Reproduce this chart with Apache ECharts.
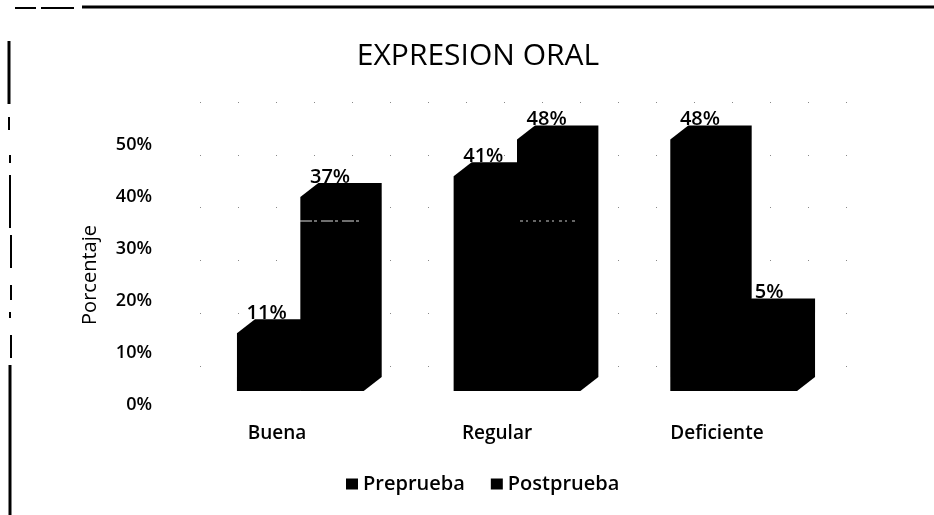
<!DOCTYPE html>
<html><head><meta charset="utf-8">
<style>html,body{margin:0;padding:0;background:#fff}#c{width:934px;height:515px}</style>
<script src="https://cdn.jsdelivr.net/npm/echarts@6/dist/echarts.min.js"></script>
</head><body><div id="c"></div>
<script>
var categories = ['Buena', 'Regular', 'Deficiente'];
var preprueba = [11, 41, 48];
var postprueba = [37, 48, 15];
var yTicks = [0, 10, 20, 30, 40, 50];

var FONT = '"Open Sans", sans-serif';
var INK = '#000';
var DX = 18, DY = 14;

function barRenderer(side) {
  return function (params, api) {
    var idx = api.value(0), val = api.value(1);
    var top = api.coord([idx, val]);
    var base = api.coord([idx, 0]);
    var cat = api.size([1, 0])[0];
    var w = cat * 0.2925;
    var l = side === 0 ? top[0] - w : top[0];
    var r = l + w;
    var t = top[1], b = base[1];
    return {
      type: 'group',
      children: [{
        type: 'polygon',
        shape: { points: [[l, b], [l, t], [l + DX, t - DY], [r + DX, t - DY], [r + DX, b - DY], [r, b]] },
        style: { fill: INK }
      }, {
        type: 'text',
        z2: 10,
        style: {
          text: val + '%', x: (l + r) / 2 - 2, y: t - DY + 4,
          align: 'center', verticalAlign: 'bottom',
          fill: INK, font: '600 20px ' + FONT
        }
      }]
    };
  };
}

function segment(x1, y1, x2, y2, width, color, dash) {
  var style = { stroke: color || '#000', lineWidth: width };
  if (dash) { style.lineDash = dash; }
  return { type: 'line', z: 20, shape: { x1: x1, y1: y1, x2: x2, y2: y2 }, style: style };
}

var chart = echarts.init(document.getElementById('c'), null, { renderer: 'canvas' });
chart.setOption({
  animation: false,
  backgroundColor: '#fff',
  title: {
    text: 'EXPRESION ORAL', left: 473, top: 36, textAlign: 'center',
    textStyle: { fontFamily: FONT, fontSize: 30, fontWeight: 400, color: INK }
  },
  legend: {
    top: 469, left: 341, itemWidth: 12, itemHeight: 11, itemGap: 26,
    icon: 'rect',
    textStyle: { fontFamily: FONT, fontSize: 20, fontWeight: 600, color: INK },
    data: ['Preprueba', 'Postprueba']
  },
  grid: [
    { left: 192, right: 92, top: 129, bottom: 124 },   // front plane of the bars
    { left: 200, right: 79, top: 102, bottom: 149 },   // back wall with gridlines
    { left: 167, right: 107, top: 145, bottom: 110 }   // axis label plane
  ],
  xAxis: [
    { gridIndex: 0, type: 'category', data: categories, axisLine: { show: false }, axisTick: { show: false }, axisLabel: { show: false } },
    { gridIndex: 1, type: 'category', data: categories, axisLine: { show: false }, axisTick: { show: false }, axisLabel: { show: false } },
    { gridIndex: 2, type: 'category', data: categories, axisLine: { show: false }, axisTick: { show: false },
      axisLabel: { margin: 19, fontFamily: FONT, fontSize: 19, fontWeight: 600, color: INK } }
  ],
  yAxis: [
    { gridIndex: 0, type: 'value', min: 0, max: 50, interval: 10, splitLine: { show: false }, axisLabel: { show: false } },
    { gridIndex: 1, type: 'value', min: 0, max: 50, interval: 10, axisLabel: { show: false },
      splitLine: { show: true, lineStyle: { color: '#888', width: 1, type: [1, 37] } } },
    { gridIndex: 2, type: 'value', min: 0, max: 50, interval: 10, splitLine: { show: false },
      name: 'Porcentaje', nameLocation: 'middle', nameGap: 67, nameRotate: 90,
      nameTextStyle: { fontFamily: FONT, fontSize: 20, fontWeight: 400, color: INK },
      axisLabel: { margin: 15, fontFamily: FONT, fontSize: 18, fontWeight: 600, color: INK,
        formatter: function (v) { return yTicks.indexOf(v) >= 0 ? v + '%' : ''; } } }
  ],
  series: [
    { name: 'Preprueba', type: 'custom', xAxisIndex: 0, yAxisIndex: 0, itemStyle: { color: INK }, z: 5,
      renderItem: barRenderer(0), data: preprueba.map(function (v, i) { return [i, v]; }) },
    { name: 'Postprueba', type: 'custom', xAxisIndex: 0, yAxisIndex: 0, itemStyle: { color: INK }, z: 4,
      renderItem: barRenderer(1), data: postprueba.map(function (v, i) { return [i, v]; }) }
  ],
  graphic: [
    segment(15, 8, 36, 8, 2),
    segment(41, 8, 74, 8, 2),
    segment(82, 7, 934, 7, 3),
    segment(9, 41, 9, 104, 3),
    segment(9, 117, 9, 130, 2),
    segment(10, 155, 10, 163, 2),
    segment(10, 175, 10, 228, 2),
    segment(11, 235, 11, 268, 2),
    segment(11, 285, 11, 300, 2),
    segment(10, 312, 10, 318, 2),
    segment(11, 335, 11, 358, 2),
    segment(10, 365, 10, 515, 3),
    segment(300, 221, 360, 221, 1, '#ddd', [12, 2, 3, 4]),
    segment(520, 221, 575, 221, 1, '#ccc', [3, 3, 2, 5])
  ]
});
</script></body></html>
